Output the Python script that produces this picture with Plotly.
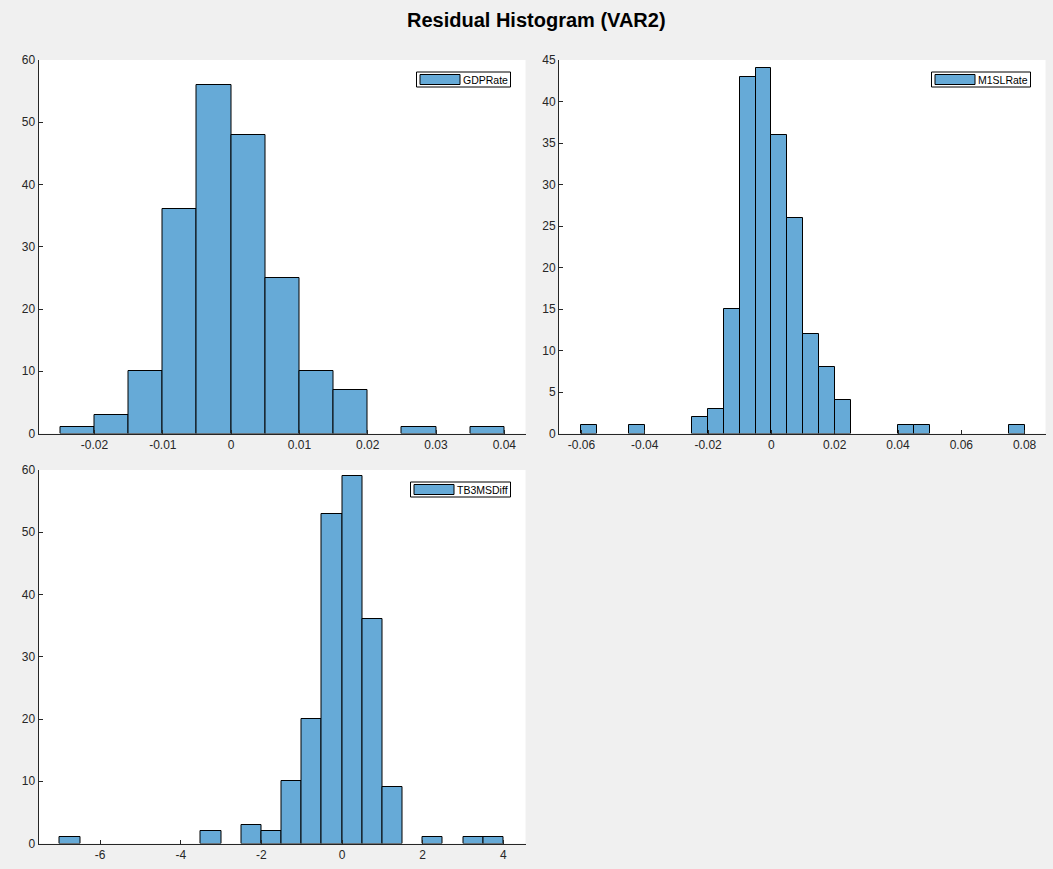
"""Residual Histogram (VAR2) - MATLAB-style histogram grid rebuilt in Plotly"""
import numpy as np
import plotly.graph_objects as go

W, H = 1053, 869

# ---- data: bin edges + counts ----
gdp_edges = [-0.025, -0.02, -0.015, -0.01, -0.005, 0.0, 0.005, 0.01, 0.015,
             0.02, 0.025, 0.03, 0.035, 0.04]
gdp_counts = [1, 3, 10, 36, 56, 48, 25, 10, 7, 0, 1, 0, 1]

m1_edges = [-0.06, -0.055, -0.05, -0.045, -0.04, -0.035, -0.03, -0.025, -0.02,
            -0.015, -0.01, -0.005, 0.0, 0.005, 0.01, 0.015, 0.02, 0.025, 0.03,
            0.035, 0.04, 0.045, 0.05, 0.055, 0.06, 0.065, 0.07, 0.075, 0.08]
m1_counts = [1, 0, 0, 1, 0, 0, 0, 2, 3, 15, 43, 44, 36, 26, 12, 8, 4, 0, 0, 0,
             1, 1, 0, 0, 0, 0, 0, 1]

tb3_edges = [-7.0, -6.5, -6.0, -5.5, -5.0, -4.5, -4.0, -3.5, -3.0, -2.5, -2.0,
             -1.5, -1.0, -0.5, 0.0, 0.5, 1.0, 1.5, 2.0, 2.5, 3.0, 3.5, 4.0]
tb3_counts = [1, 0, 0, 0, 0, 0, 0, 2, 0, 3, 2, 10, 20, 53, 59, 36, 9, 0, 1, 0, 1, 1]

series_names = ["GDPRate", "M1SLRate", "TB3MSDiff"]

# tick labels
gdp_xticks = [-0.02, -0.01, 0, 0.01, 0.02, 0.03, 0.04]
gdp_xlabels = ["-0.02", "-0.01", "0", "0.01", "0.02", "0.03", "0.04"]
m1_xticks = [-0.06, -0.04, -0.02, 0, 0.02, 0.04, 0.06, 0.08]
m1_xlabels = ["-0.06", "-0.04", "-0.02", "0", "0.02", "0.04", "0.06", "0.08"]
tb3_xticks = [-6, -4, -2, 0, 2, 4]
tb3_xlabels = ["-6", "-4", "-2", "0", "2", "4"]
count_ticks_60 = [0, 10, 20, 30, 40, 50, 60]
count_ticks_45 = [0, 5, 10, 15, 20, 25, 30, 35, 40, 45]

# ---- styling ----
BAR_FILL = "#66AAD7"
AX_COLOR = "#262626"
FONT = "Liberation Sans, Arial, sans-serif"


def px_x(x):
    return x / W


def px_y(y):
    return 1 - y / H


# plot areas in pixels (left, right, top, bottom)
areas = [
    (38.5, 525.5, 60, 433.5),
    (559, 1045.5, 60, 433.5),
    (38.5, 525.5, 470, 843.5),
]
xranges = [[-0.0282, 0.0431], [-0.0671, 0.0866], [-7.53, 4.55]]
yranges = [[0, 60], [0, 45], [0, 60]]

datasets = [
    (gdp_edges, gdp_counts, gdp_xticks, gdp_xlabels, count_ticks_60),
    (m1_edges, m1_counts, m1_xticks, m1_xlabels, count_ticks_45),
    (tb3_edges, tb3_counts, tb3_xticks, tb3_xlabels, count_ticks_60),
]

fig = go.Figure()
layout_axes = {}
shapes = []
annotations = []
legend_widths = [94, 99, 100]

for i, (edges, counts, xt, xl, yt) in enumerate(datasets):
    n = "" if i == 0 else str(i + 1)
    e = np.array(edges)
    centers = (e[:-1] + e[1:]) / 2
    widths = e[1:] - e[:-1]
    # empty bins get no outline (MATLAB draws nothing there)
    edge_w = [1 if c > 0 else 0 for c in counts]

    fig.add_trace(go.Bar(
        x=centers, y=counts, width=widths,
        name=series_names[i],
        marker=dict(color=BAR_FILL, line=dict(color="black", width=edge_w)),
        xaxis="x" + n, yaxis="y" + n,
        showlegend=False,
    ))

    l, r, t, b = areas[i]
    common = dict(showgrid=False, zeroline=False, showline=True, linecolor=AX_COLOR,
                  linewidth=1, ticks="inside", ticklen=4, tickcolor=AX_COLOR,
                  tickfont=dict(family=FONT, size=12, color=AX_COLOR),
                  automargin=False, fixedrange=True)
    layout_axes["xaxis" + n] = dict(common, domain=[px_x(l), px_x(r)], anchor="y" + n,
                                    range=xranges[i], tickmode="array",
                                    tickvals=xt, ticktext=xl)
    layout_axes["yaxis" + n] = dict(common, domain=[px_y(b), px_y(t)], anchor="x" + n,
                                    range=yranges[i], tickmode="array", tickvals=yt)

    # MATLAB-like legend box in the top-right corner
    box_r = r - 15
    box_l = box_r - legend_widths[i]
    box_t = t + 12
    box_b = box_t + 15
    shapes.append(dict(type="rect", xref="paper", yref="paper",
                       x0=px_x(box_l), x1=px_x(box_r), y0=px_y(box_b), y1=px_y(box_t),
                       fillcolor="white", line=dict(color="black", width=1), layer="above"))
    shapes.append(dict(type="rect", xref="paper", yref="paper",
                       x0=px_x(box_l + 3.5), x1=px_x(box_l + 43.5),
                       y0=px_y(box_b - 2.5), y1=px_y(box_t + 2.5),
                       fillcolor=BAR_FILL, line=dict(color="black", width=1), layer="above"))
    annotations.append(dict(text=series_names[i], xref="paper", yref="paper",
                            x=px_x(box_l + 44.5), y=px_y((box_t + box_b) / 2),
                            xanchor="left", yanchor="middle", showarrow=False,
                            font=dict(family=FONT, size=10.5, color="black")))

annotations.append(dict(text="<b>Residual Histogram (VAR2)</b>", xref="paper", yref="paper",
                        x=px_x(536), y=px_y(20), xanchor="center", yanchor="middle",
                        showarrow=False, font=dict(family=FONT, size=20, color="black")))

fig.update_layout(
    width=W, height=H,
    margin=dict(l=0, r=0, t=0, b=0, autoexpand=False),
    paper_bgcolor="#F0F0F0",
    plot_bgcolor="white",
    bargap=0,
    shapes=shapes,
    annotations=annotations,
    **layout_axes,
)

fig.write_html("out.html", config={"displayModeBar": False},
               post_script="document.body.style.margin='0';document.body.style.overflow='hidden';")
